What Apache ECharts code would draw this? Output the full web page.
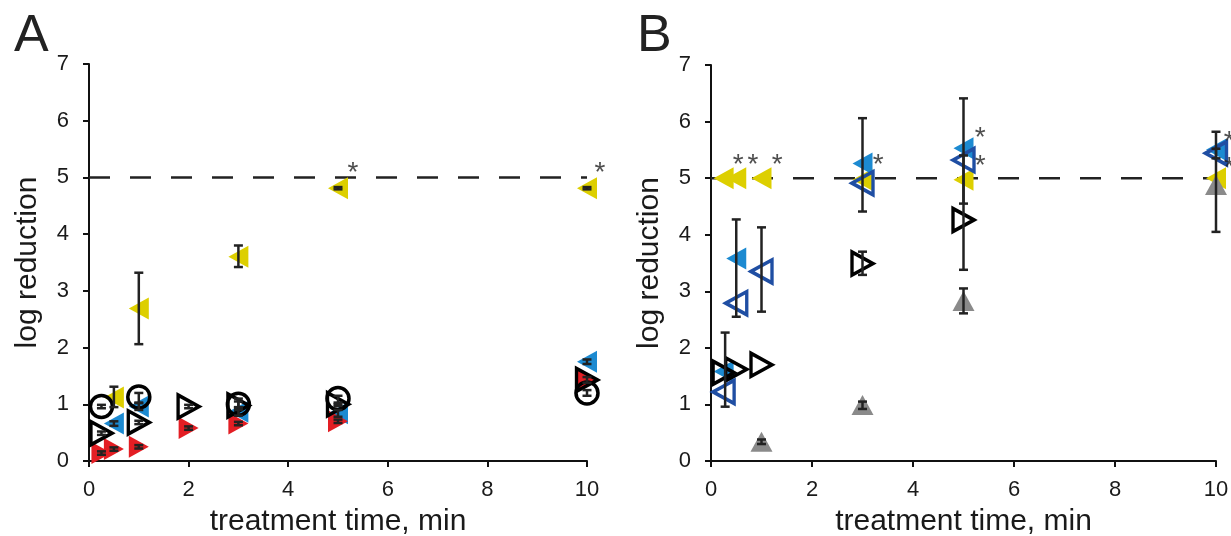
<!DOCTYPE html>
<html><head><meta charset="utf-8">
<script src="https://cdn.jsdelivr.net/npm/echarts@6/dist/echarts.min.js"></script>
<style>html,body{margin:0;padding:0;background:#fff}#c{width:1231px;height:536px}</style>
</head><body><div id="c"></div>
<script>
// ---- Panel A data ----
const aYellow = [[0.5,1.12],[1,2.69],[3,3.6],[5,4.81],[10,4.81]];
const aBlue = [[0.5,0.66],[1,0.96],[3,0.87],[5,0.84],[10,1.75]];
const aRed = [[0.25,0.14],[0.5,0.21],[1,0.25],[2,0.58],[3,0.66],[5,0.7],[10,1.43]];
const aOpenTri = [[0.25,0.49],[1,0.68],[2,0.96],[3,0.98],[5,1.0],[10,1.43]];
const aCircle = [[0.25,0.96],[1,1.13],[3,1.0],[5,1.1],[10,1.2]];
const aErr = [[0.5,0.95,1.31],[1,2.06,3.32],[3,3.42,3.8],[5,4.79,4.83],[10,4.79,4.83],
  [0.5,0.62,0.7],[1,0.9,1.02],[3,0.8,0.94],[5,0.78,0.9],[10,1.71,1.79],
  [0.25,0.11,0.17],[0.5,0.18,0.24],[1,0.22,0.28],[2,0.55,0.61],[3,0.63,0.69],[5,0.67,0.73],[10,1.38,1.48],
  [0.25,0.46,0.52],[1,0.65,0.71],[2,0.93,0.99],[3,0.95,1.05],[5,0.97,1.03],
  [0.25,0.93,0.99],[1,1.03,1.2],[3,0.9,1.1],[5,1.0,1.15],[10,1.15,1.25]];
const aStars = [[5.3,5.08],[10.26,5.08]];
// ---- Panel B data ----
const bYellow = [[0.25,5.0],[0.5,5.0],[1,5.0],[3,4.97],[5,4.97],[10,5.0]];
const bLightBlue = [[0.25,1.58],[0.5,3.58],[3,5.26],[5,5.53],[10,5.5]];
const bDarkBlue = [[0.25,1.22],[0.5,2.79],[1,3.35],[3,4.91],[5,5.32],[10,5.44]];
const bOpenRight = [[0.25,1.56],[0.5,1.62],[1,1.7],[3,3.49],[5,4.26]];
const bGrey = [[1,0.34],[3,0.99],[5,2.83],[10,4.88]];
const bErr = [[0.28,0.96,2.27],[0.5,2.55,4.27],[1,2.64,4.13],[3,4.41,6.06],[3,3.29,3.7],
  [5,3.38,6.41],[5,4.55,5.4],[5,2.61,3.05],[10,4.05,5.82],[10,5.35,5.52],[1,0.3,0.38],[3,0.92,1.05]];
const bStars = [[0.54,5.23],[0.83,5.23],[1.31,5.23],[3.31,5.23],[5.33,5.7],[5.33,5.21],[10.26,5.64],[10.26,5.18]];
const threshold = 5;

const FONT = 'Liberation Sans, Arial, sans-serif';
const LEFT_TRI = 'path://M0,10 L17,0 L17,20 Z';
const RIGHT_TRI = 'path://M17,10 L0,0 L0,20 Z';
const UP_TRI = 'path://M10,0 L20,17 L0,17 Z';

function axisX(i){return {gridIndex:i,type:'value',min:0,max:10,interval:2,
  name:'treatment time, min',nameLocation:'middle',nameGap:46,
  nameTextStyle:{fontSize:30,color:'#1a1a1a',fontFamily:FONT},
  axisLine:{onZero:false,lineStyle:{color:'#111',width:2}},
  axisTick:{show:true,inside:false,length:6,lineStyle:{color:'#111',width:2}},
  axisLabel:{fontSize:22,color:'#1a1a1a',margin:18,fontFamily:FONT},splitLine:{show:false}};}
function axisY(i){return {gridIndex:i,type:'value',min:0,max:7,interval:1,
  name:'log reduction',nameLocation:'middle',nameGap:46,
  nameTextStyle:{fontSize:30,color:'#1a1a1a',fontFamily:FONT},
  axisLine:{show:true,lineStyle:{color:'#111',width:2}},
  axisTick:{show:true,inside:false,length:6,lineStyle:{color:'#111',width:2}},
  axisLabel:{fontSize:22,color:'#1a1a1a',margin:20,fontFamily:FONT},splitLine:{show:false}};}

function scatter(i,data,symbol,size,color,border,z){
  return {type:'scatter',xAxisIndex:i,yAxisIndex:i,data:data,symbol:symbol,symbolSize:size,
    itemStyle:{color:border?'rgba(0,0,0,0)':color,borderColor:border?color:undefined,borderWidth:border?3.5:0,opacity:1},
    z:z,silent:true,clip:false};
}
function errSeries(i,data){
  return {type:'custom',xAxisIndex:i,yAxisIndex:i,data:data,z:20,silent:true,clip:false,
    renderItem:function(params,api){
      const x=api.value(0),lo=api.value(1),hi=api.value(2);
      const p1=api.coord([x,lo]),p2=api.coord([x,hi]);const w=4.5;
      const st={stroke:'#222',lineWidth:2.5};
      return {type:'group',children:[
        {type:'line',shape:{x1:p1[0],y1:p1[1],x2:p2[0],y2:p2[1]},style:st},
        {type:'line',shape:{x1:p1[0]-w,y1:p1[1],x2:p1[0]+w,y2:p1[1]},style:st},
        {type:'line',shape:{x1:p2[0]-w,y1:p2[1],x2:p2[0]+w,y2:p2[1]},style:st}]};
    }};
}
function dashLine(i){
  return {type:'line',xAxisIndex:i,yAxisIndex:i,data:[[0,threshold],[10,threshold]],symbol:'none',
    lineStyle:{color:'#222',width:2.5,type:[21,20]},z:1,silent:true};
}
function stars(i,data){
  return {type:'scatter',xAxisIndex:i,yAxisIndex:i,data:data,symbolSize:1,itemStyle:{color:'rgba(0,0,0,0)'},
    clip:false,z:30,silent:true,
    label:{show:true,position:'inside',formatter:'*',fontSize:28,color:'#222',fontFamily:FONT}};
}

const chart = echarts.init(document.getElementById('c'),null,{renderer:'canvas'});
chart.setOption({
  animation:false,backgroundColor:'#fff',
  textStyle:{fontFamily:FONT},
  title:[
    {text:'A',left:9,top:6,textStyle:{fontSize:52,fontWeight:'normal',color:'#222',fontFamily:FONT}},
    {text:'B',left:632,top:6,textStyle:{fontSize:52,fontWeight:'normal',color:'#222',fontFamily:FONT}}],
  grid:[{left:89,right:644,top:64,bottom:75,containLabel:false,outerBoundsMode:'none'},
        {left:711,right:15,top:65,bottom:75,containLabel:false,outerBoundsMode:'none'}],
  xAxis:[axisX(0),axisX(1)],
  yAxis:[axisY(0),axisY(1)],
  series:[
    dashLine(0),
    scatter(0,aYellow,LEFT_TRI,[20,22],'#ddcf00',false,5),
    scatter(0,aBlue,LEFT_TRI,[20,22],'#1c8ad1',false,6),
    scatter(0,aRed,RIGHT_TRI,[20,22],'#e31e24',false,7),
    scatter(0,aOpenTri,RIGHT_TRI,[21,23],'#000',true,8),
    scatter(0,aCircle,'circle',22,'#000',true,9),
    errSeries(0,aErr),
    stars(0,aStars),
    dashLine(1),
    scatter(1,bYellow,LEFT_TRI,[20,22],'#ddcf00',false,5),
    scatter(1,bLightBlue,LEFT_TRI,[20,22],'#1c8ad1',false,6),
    scatter(1,bGrey,UP_TRI,[22,20],'#8a8a8a',false,7),
    scatter(1,bOpenRight,RIGHT_TRI,[21,23],'#000',true,8),
    scatter(1,bDarkBlue,LEFT_TRI,[21,23],'#1f4ea3',true,9),
    errSeries(1,bErr),
    stars(1,bStars)
  ]
});
</script></body></html>
